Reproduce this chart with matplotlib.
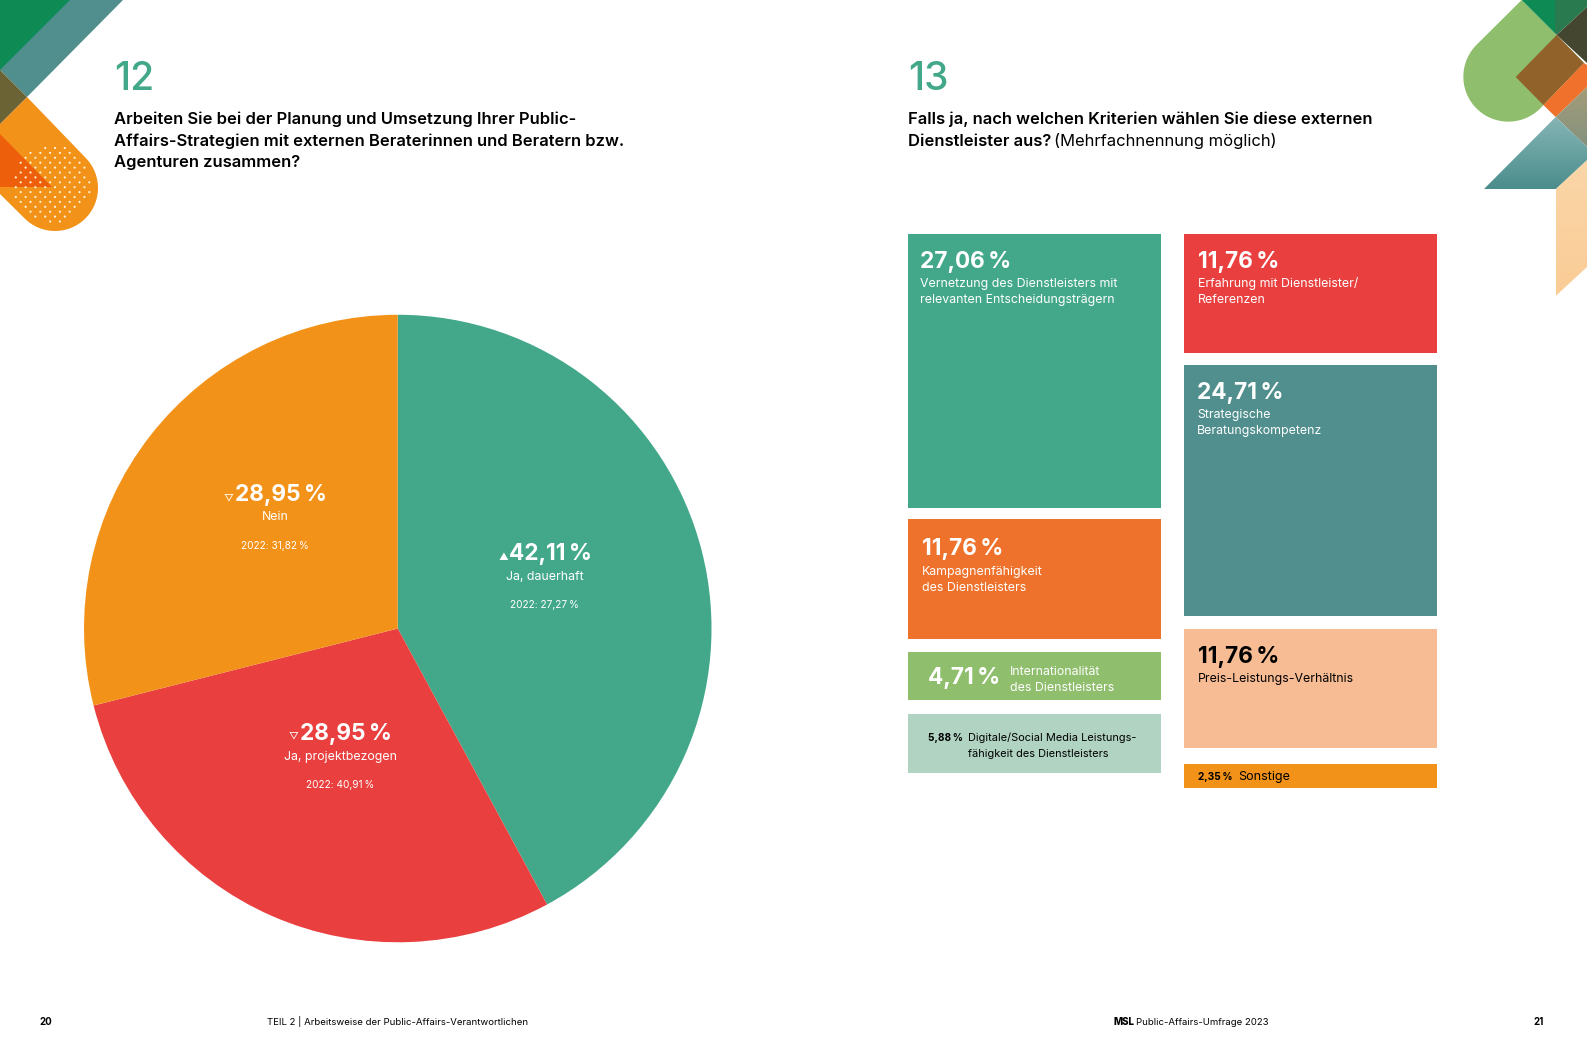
"""Survey spread: pie for question 12, proportional blocks for question 13."""

import matplotlib

matplotlib.use("Agg")
import matplotlib.pyplot as plt
import numpy as np
from matplotlib.colors import LinearSegmentedColormap
from matplotlib.patches import Circle, Polygon

plt.rcParams["font.family"] = ["Inter", "DejaVu Sans"]

W, H = 1587, 1058
S = W / 1568  # layout below was measured on a 1568 wide view

GREEN = "#43A88A"
RED = "#E9403F"
ORANGE = "#F39219"
TEAL = "#508F8D"
DEEP_ORANGE = "#EE722B"
LEAF = "#8FBE6D"
MINT = "#B0D3C2"
PEACH = "#F7BC94"

pie_values = [42.11, 28.95, 28.95]
pie_labels = ["Ja, dauerhaft", "Ja, projektbezogen", "Nein"]
pie_2022 = [27.27, 40.91, 31.82]
pie_colors = [GREEN, RED, ORANGE]

left_values = [27.06, 11.76, 4.71, 5.88]
left_labels = [
    ["Vernetzung des Dienstleisters mit", "relevanten Entscheidungsträgern"],
    ["Kampagnenfähigkeit", "des Dienstleisters"],
    ["Internationalität", "des Dienstleisters"],
    ["Digitale/Social Media Leistungs-", "fähigkeit des Dienstleisters"],
]
right_values = [11.76, 24.71, 11.76, 2.35]
right_labels = [
    ["Erfahrung mit Dienstleister/", "Referenzen"],
    ["Strategische", "Beratungskompetenz"],
    ["Preis-Leistungs-Verhältnis"],
    ["Sonstige"],
]
left_colors = [GREEN, DEEP_ORANGE, LEAF, MINT]
right_colors = [RED, TEAL, PEACH, ORANGE]
left_gaps = [0, 1.1, 1.3, 1.4]
right_gaps = [0, 1.2, 1.3, 1.6]


def pct(value):
    return f"{value:.2f}".replace(".", ",") + "\u2009%"


def stack_bars(ax, x, values, gaps, colors):
    tops = np.cumsum(np.array(values) + np.array(gaps)) - np.array(values)
    ax.bar([x] * len(values), values, width=1.0, bottom=tops, color=colors, linewidth=0)


fig = plt.figure(figsize=(W / 100, H / 100), dpi=100, facecolor="white")

# pie
cx, cy, r = 393 * S, 621 * S, 310 * S
ax_pie = fig.add_axes([(cx - r) / W, 1 - (cy + r) / H, 2 * r / W, 2 * r / H])
ax_pie.pie(pie_values, colors=pie_colors, startangle=90, counterclock=False, radius=1.0,
           wedgeprops={"linewidth": 0})
ax_pie.set_xlim(-1, 1)
ax_pie.set_ylim(-1, 1)

# blocks, height proportional to the share
x0, x1, y0, y1 = 897 * S, 1420 * S, 231 * S, 779 * S
ax_tree = fig.add_axes([x0 / W, 1 - y1 / H, (x1 - x0) / W, (y1 - y0) / H])
col_step = 273 / 250
stack_bars(ax_tree, 0, left_values, left_gaps, left_colors)
stack_bars(ax_tree, col_step, right_values, right_gaps, right_colors)
ax_tree.set_xlim(-0.5, col_step + 0.5)
ax_tree.set_ylim(54.7, 0)
ax_tree.axis("off")

# page layer: decoration and text, in pixels
ax = fig.add_axes([0, 0, 1, 1], facecolor="none")
ax.set_xlim(0, W)
ax.set_ylim(H, 0)
ax.axis("off")
ax.set_autoscale_on(False)


def poly(points, color, z=1):
    patch = Polygon(points, closed=True, facecolor=color, edgecolor="none", zorder=z)
    ax.add_patch(patch)
    return patch


def gradient(points, top, bottom, z=2):
    patch = Polygon(points, closed=True, facecolor="none", edgecolor="none")
    ax.add_patch(patch)
    pts = np.array(points)
    cmap = LinearSegmentedColormap.from_list("g", [top, bottom])
    im = ax.imshow(np.linspace(0, 1, 128).reshape(-1, 1), cmap=cmap, aspect="auto", zorder=z,
                   extent=[pts[:, 0].min(), pts[:, 0].max(), pts[:, 1].max(), pts[:, 1].min()])
    im.set_clip_path(patch)


# top left ornament
poly([(0, 0), (71, 0), (0, 71)], "#0E8A55")
poly([(70, 0), (123, 0), (27, 97), (0, 70)], "#508F8D", 2)
poly([(0, 70), (27, 97), (0, 124)], "#6B6334", 3)
c = (55, 188)
rad = 43
arc = [(c[0] + rad * np.cos(t), c[1] + rad * np.sin(t)) for t in np.linspace(-np.pi / 4, 3 * np.pi / 4, 40)]
poly([(27, 97)] + arc + [(0, 194), (0, 124)], ORANGE)
poly([(0, 134), (52, 187), (0, 187)], "#EE5F0C", 2)
dot_y = np.arange(148, 225, 4.9)
for i, yy in enumerate(dot_y):
    for xx in np.arange(6 + (i % 2) * 4.9, 96, 9.8):
        if np.hypot(xx - 52, yy - 184) < 39:
            ax.add_patch(Circle((xx, yy), 1.1, facecolor="#FFF2D0", edgecolor="none", zorder=4))

# top right ornament
X = 1430
c = (X + 235 / 3, 230 / 3)
rad = 45
arc = [(c[0] + rad * np.cos(t), c[1] + rad * np.sin(t)) for t in np.linspace(np.pi * 0.25, np.pi * 1.25, 40)]
poly(arc + [(X + 275 / 3, 0), (X + 380 / 3, 35), (X + 462 / 3, 63)], LEAF)
poly([(X + 275 / 3, 0), (X + 375 / 3, 0), (X + 375 / 3, 33), (X + 380 / 3, 35)], "#0E8A55", 3)
poly([(X + 375 / 3, 0), (W, 0), (W, 7), (X + 380 / 3, 35), (X + 375 / 3, 33)], "#2A7A50", 3)
poly([(X + 380 / 3, 35), (W, 7), (W, 63)], "#444630", 3)
poly([(X + 380 / 3, 35), (X + 257 / 3, 77), (X + 340 / 3, 105), (X + 462 / 3, 63)], "#92622B", 3)
poly([(X + 462 / 3, 63), (X + 340 / 3, 105), (X + 377 / 3, 117), (W, 87), (W, 65)], "#F0712B", 3)
gradient([(X + 377 / 3, 189), (W, 160), (W, 267), (X + 377 / 3, 296)], "#FAD6A8", "#FACC96", 2)
gradient([(X + 377 / 3, 117), (W, 87), (W, 147)], "#A39C78", "#84927F", 3)
gradient([(X + 377 / 3, 117), (W, 147), (W, 160), (X + 377 / 3, 189), (X + 162 / 3, 189)],
         "#86B5B5", "#4A8D8C", 3)


def txt(x, y, s, size, color="black", weight="normal", ha="left"):
    return ax.text(x * S, y * S, s, fontsize=size, color=color, fontweight=weight, ha=ha, va="baseline", zorder=6)


# headers
BODY = 11.95
txt(112.5, 88.5, "12", 28, GREEN, "medium")
txt(897, 88.5, "13", 28, GREEN, "medium")
for y, line in zip((123, 144, 165), ("Arbeiten Sie bei der Planung und Umsetzung Ihrer Public-",
                                      "Affairs-Strategien mit externen Beraterinnen und Beratern bzw.",
                                      "Agenturen zusammen?")):
    txt(112.5, y, line, BODY, weight="semibold")
txt(897, 123, "Falls ja, nach welchen Kriterien wählen Sie diese externen", BODY, weight="semibold")
txt(897, 144, "Dienstleister aus?", BODY, weight="semibold")
txt(1041, 144, "(Mehrfachnennung möglich)", 11.95)

# pie captions, order matches pie_values
BIG = 16.3
LABEL = 8.9
SMALL = 7.3
mark_pos = [("▲", 497, 553), ("▽", 290, 730), ("▽", 226, 494)]
big_pos = [(543.5, 553), (342, 731), (277.5, 495)]
label_pos = [(538, 573), (336, 751), (272, 514)]
old_pos = [(538, 601), (336, 779), (272, 542)]
for i in range(3):
    mark, mx, my = mark_pos[i]
    txt(mx, my, mark, 7, "white", ha="center")
    txt(big_pos[i][0], big_pos[i][1], pct(pie_values[i]), BIG, "white", "bold", ha="center")
    txt(label_pos[i][0], label_pos[i][1], pie_labels[i], LABEL, "white", ha="center")
    txt(old_pos[i][0], old_pos[i][1], f"2022: {pct(pie_2022[i])}", SMALL, "white", ha="center")

# block captions: value x, value y, value size, label x, label y, label size
left_layout = [(909, 265, BIG, 909, 284, LABEL), (911, 548, BIG, 911, 568, LABEL),
               (917, 676, BIG, 998, 667, LABEL), (917, 732, 7.3, 956, 732, 7.9)]
right_layout = [(1184, 265, BIG, 1184, 284, LABEL), (1183, 394, BIG, 1183, 413, LABEL),
                (1184, 655, BIG, 1184, 674, LABEL), (1184, 771, 7.3, 1223, 771, 9.0)]
left_ink = ["white", "white", "white", "black"]
right_ink = ["white", "white", "black", "black"]
for values, labels, layout, inks in ((left_values, left_labels, left_layout, left_ink),
                                     (right_values, right_labels, right_layout, right_ink)):
    for value, lines, (vx, vy, vsize, lx, ly, lsize), ink in zip(values, labels, layout, inks):
        txt(vx, vy, pct(value), vsize, ink, "bold")
        for k, line in enumerate(lines):
            txt(lx, ly + 15.8 * k, line, lsize, ink)

# footer
txt(39, 1013, "20", 7, weight="bold")
txt(264, 1013, "TEIL 2 | Arbeitsweise der Public-Affairs-Verantwortlichen", 6.9)
txt(1100, 1013, "MSL", 7, weight="heavy")
txt(1122, 1013, "Public-Affairs-Umfrage 2023", 6.9)
txt(1515, 1013, "21", 7, weight="bold")

fig.savefig("out.png", dpi=100)
